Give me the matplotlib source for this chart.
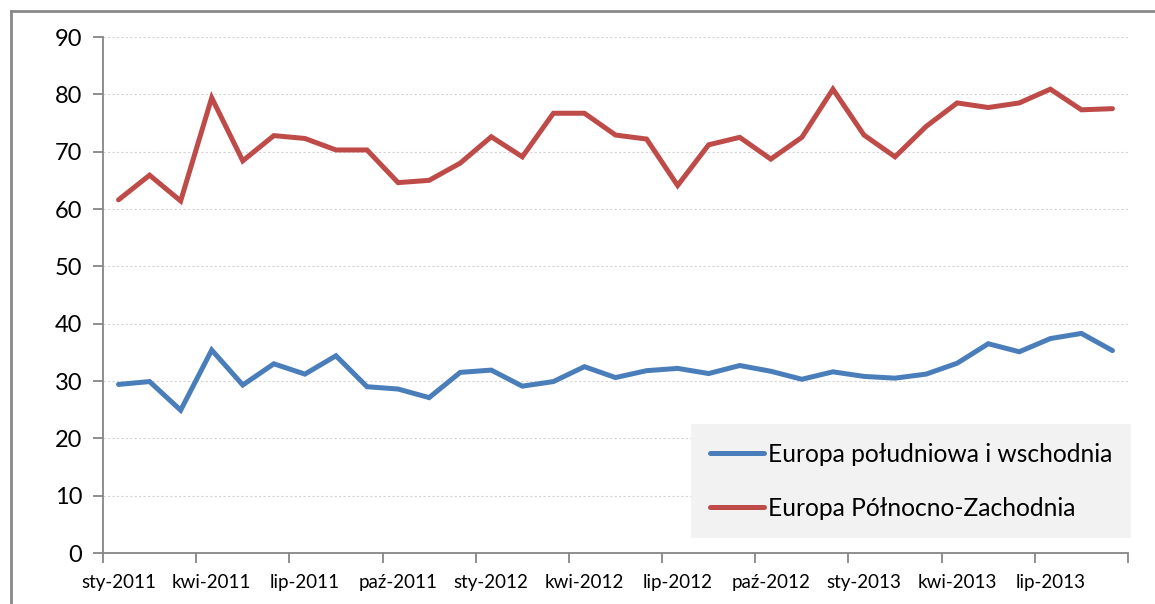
import matplotlib
matplotlib.use("Agg")
import matplotlib.pyplot as plt
from matplotlib.lines import Line2D

plt.rcParams['font.family'] = ['Lato', 'DejaVu Sans']

months = ['sty', 'lut', 'mar', 'kwi', 'maj', 'cze', 'lip', 'sie', 'wrz', 'paź', 'lis', 'gru']
categories = [f"{months[m]}-{y}" for y in (2011, 2012, 2013) for m in range(12)][:33]

south_east = [29.4, 29.9, 24.9, 35.4, 29.3, 33.0, 31.2, 34.4, 29.0, 28.6, 27.1,
              31.5, 31.9, 29.1, 29.9, 32.5, 30.6, 31.8, 32.2, 31.3, 32.7, 31.7,
              30.3, 31.6, 30.8, 30.5, 31.2, 33.1, 36.5, 35.1, 37.4, 38.3, 35.3]
north_west = [61.6, 65.9, 61.4, 79.4, 68.4, 72.8, 72.3, 70.3, 70.3, 64.6, 65.0,
              68.0, 72.6, 69.1, 76.7, 76.7, 72.9, 72.2, 64.1, 71.2, 72.5, 68.7,
              72.5, 80.9, 72.9, 69.1, 74.4, 78.5, 77.7, 78.5, 80.9, 77.3, 77.5]
series_names = ['Europa południowa i wschodnia', 'Europa Północno-Zachodnia']
series_colors = ['#4A7EBB', '#BE4B48']
y_ticks = [0, 10, 20, 30, 40, 50, 60, 70, 80, 90]

W, H = 1155, 604
fig = plt.figure(figsize=(W / 100, H / 100), dpi=100)
ax = fig.add_axes([103 / W, (H - 553) / H, (1128 - 103) / W, (553 - 37) / H])

x = list(range(len(categories)))
for vals, name, col in zip([south_east, north_west], series_names, series_colors):
    ax.plot(x, vals, color=col, lw=3.6, label=name, solid_joinstyle='miter',
            solid_capstyle='round')

ax.set_xlim(-0.5, len(categories) - 0.5)
ax.set_ylim(0, 90)
ax.set_yticks(y_ticks)
ax.set_yticklabels([str(v) for v in y_ticks], fontsize=17)
ax.yaxis.grid(True, color='#D4D4D4', lw=0.8, ls=(0, (2, 2)))
ax.set_axisbelow(True)

label_idx = list(range(0, len(categories), 3))
ax.set_xticks(label_idx)
ax.set_xticklabels([categories[i] for i in label_idx], fontsize=13.5)
ax.set_xticks([i - 0.5 for i in range(0, len(categories) + 1, 3)], minor=True)
ax.tick_params(axis='x', which='major', length=0, pad=15)
ax.tick_params(axis='x', which='minor', length=7, color='#868686', width=1.3)
ax.tick_params(axis='y', length=7, color='#868686', width=1.3, pad=8)

for s in ['top', 'right']:
    ax.spines[s].set_visible(False)
for s in ['left', 'bottom']:
    ax.spines[s].set_color('#868686')
    ax.spines[s].set_linewidth(1.3)

leg = ax.legend(loc='lower right', bbox_to_anchor=(1131 / W, (H - 538) / H),
                bbox_transform=fig.transFigure, borderaxespad=0, fontsize=17.7,
                frameon=True, fancybox=False, facecolor='#F2F2F2', edgecolor='none',
                framealpha=1, handlelength=2.2, handletextpad=0.18,
                labelspacing=1.25, borderpad=0.75)

fig.add_artist(Line2D([11 / W, 1], [1 - 11 / H, 1 - 11 / H], color='#898989', lw=2))
fig.add_artist(Line2D([11 / W, 11 / W], [0, 1 - 11 / H], color='#898989', lw=2))

fig.savefig('out.png', dpi=100)
